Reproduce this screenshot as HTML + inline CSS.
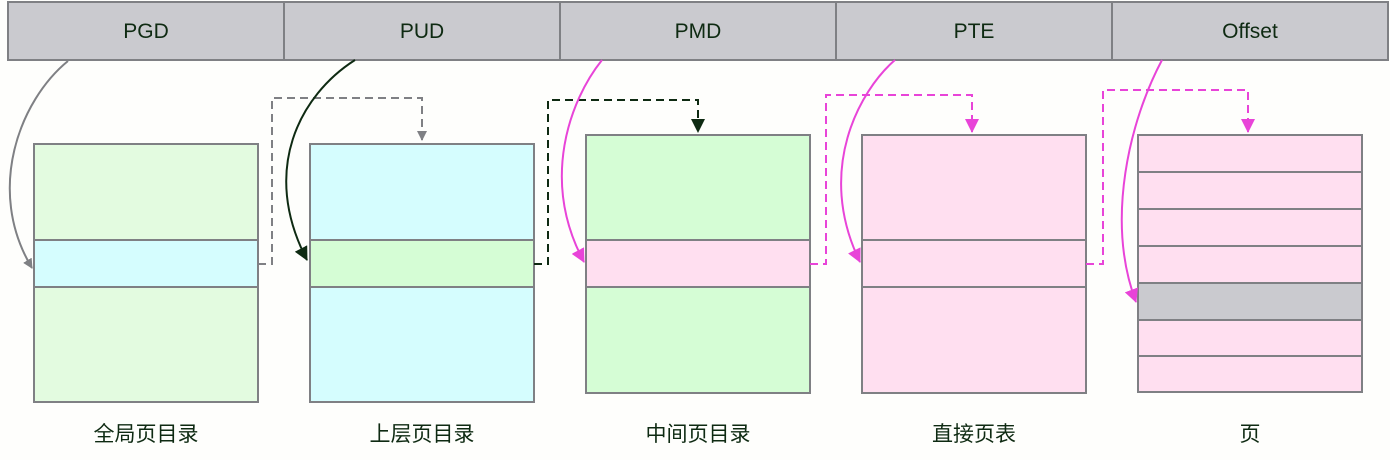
<!DOCTYPE html>
<html><head><meta charset="utf-8"><style>
html,body{margin:0;padding:0;background:#fefefc;}
svg{display:block}
text{font-family:"Liberation Sans","Noto Sans CJK SC",sans-serif;}
</style></head><body>
<svg width="1390" height="460" viewBox="0 0 1390 460" xmlns="http://www.w3.org/2000/svg">
<defs>
<marker id="ag" markerWidth="10" markerHeight="10" refX="9" refY="5" orient="auto" markerUnits="userSpaceOnUse"><path d="M0,0 L10,5 L0,10 z" fill="#7f8084"/></marker>
<marker id="ad" markerWidth="14" markerHeight="14" refX="13" refY="7" orient="auto" markerUnits="userSpaceOnUse"><path d="M0,0 L14,7 L0,14 z" fill="#0e2a12"/></marker>
<marker id="am" markerWidth="14" markerHeight="14" refX="13" refY="7" orient="auto" markerUnits="userSpaceOnUse"><path d="M0,0 L14,7 L0,14 z" fill="#e844d8"/></marker>
</defs>
<rect x="8" y="2" width="1380" height="58" fill="#cacacf" stroke="#7f8084" stroke-width="2"/>
<g stroke="#7f8084" stroke-width="2">
<line x1="284" y1="2" x2="284" y2="60"/><line x1="560" y1="2" x2="560" y2="60"/>
<line x1="836" y1="2" x2="836" y2="60"/><line x1="1112" y1="2" x2="1112" y2="60"/>
</g>
<g font-size="21" fill="#0e2a12" text-anchor="middle">
<text x="146" y="38">PGD</text><text x="422" y="38">PUD</text><text x="698" y="38">PMD</text>
<text x="974" y="38">PTE</text><text x="1250" y="38">Offset</text>
</g>
<g stroke="#7f8084" stroke-width="2">
<rect x="34" y="144" width="224" height="96" fill="#e3fbe0"/>
<rect x="34" y="240" width="224" height="47" fill="#d5fdfe"/>
<rect x="34" y="287" width="224" height="115" fill="#e3fbe0"/>
<rect x="310" y="144" width="224" height="96" fill="#d5fdfe"/>
<rect x="310" y="240" width="224" height="47" fill="#d5fdd5"/>
<rect x="310" y="287" width="224" height="115" fill="#d5fdfe"/>
<rect x="586" y="135" width="224" height="105" fill="#d5fdd5"/>
<rect x="586" y="240" width="224" height="47" fill="#ffdff0"/>
<rect x="586" y="287" width="224" height="106" fill="#d5fdd5"/>
<rect x="862" y="135" width="224" height="105" fill="#ffdff0"/>
<rect x="862" y="240" width="224" height="47" fill="#ffdff0"/>
<rect x="862" y="287" width="224" height="106" fill="#ffdff0"/>
<rect x="1138" y="135" width="224" height="37" fill="#ffdff0"/>
<rect x="1138" y="172" width="224" height="37" fill="#ffdff0"/>
<rect x="1138" y="209" width="224" height="37" fill="#ffdff0"/>
<rect x="1138" y="246" width="224" height="37" fill="#ffdff0"/>
<rect x="1138" y="283" width="224" height="37" fill="#cacacf"/>
<rect x="1138" y="320" width="224" height="36" fill="#ffdff0"/>
<rect x="1138" y="356" width="224" height="36" fill="#ffdff0"/>
</g>
<g fill="none" stroke-width="2" stroke-dasharray="8,5">
<path d="M258,264 H272 V98 H422 V140" stroke="#7f8084" marker-end="url(#ag)"/>
<path d="M534,264 H548 V100 H698 V132" stroke="#0e2a12" marker-end="url(#ad)"/>
<path d="M810,264 H826 V95 H972 V132" stroke="#e844d8" marker-end="url(#am)"/>
<path d="M1086,264 H1103 V90 H1248 V132" stroke="#e844d8" marker-end="url(#am)"/>
</g>
<g fill="none" stroke-width="2">
<path d="M68,61 C20,100 -15,190 32,268" stroke="#7f8084" marker-end="url(#ag)"/>
<path d="M355,60 C300,95 260,170 307,260" stroke="#0e2a12" marker-end="url(#ad)"/>
<path d="M602,60 C570,100 540,180 584,262" stroke="#e844d8" marker-end="url(#am)"/>
<path d="M895,60 C860,90 815,170 860,262" stroke="#e844d8" marker-end="url(#am)"/>
<path d="M1162,60 C1130,120 1105,220 1136,302" stroke="#e844d8" marker-end="url(#am)"/>
</g>
<g font-size="21" fill="#0e2a12" text-anchor="middle">
<text x="146" y="441">全局页目录</text><text x="422" y="441">上层页目录</text>
<text x="698" y="441">中间页目录</text><text x="974" y="441">直接页表</text>
<text x="1250" y="441">页</text>
</g>
</svg>
</body></html>
